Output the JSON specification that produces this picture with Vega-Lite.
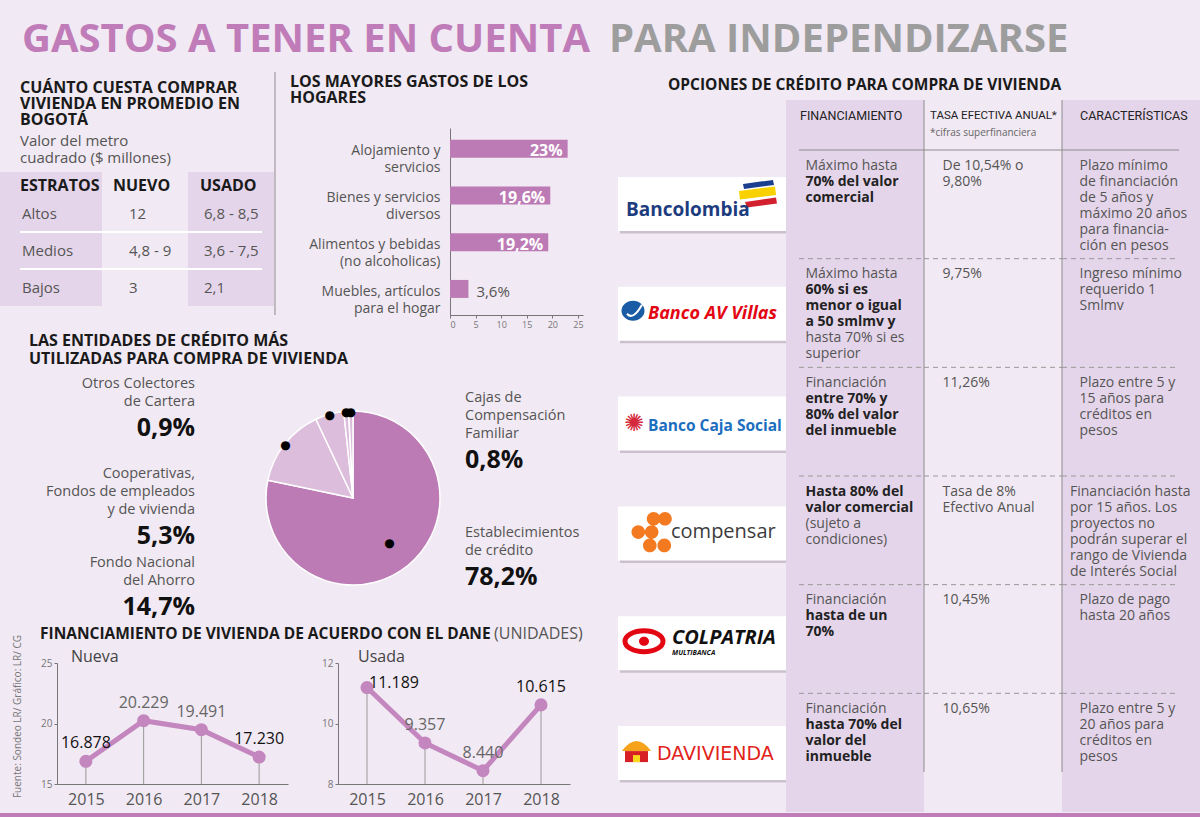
{
"$schema": "https://vega.github.io/schema/vega-lite/v6.json",
"padding": 0,
"background": "#f1e9f3",
"spacing": 0,
"config": {
  "view": {"stroke": null},
  "font": "Open Sans",
  "locale": {"number": {"decimal": ",", "thousands": ".", "grouping": [3], "currency": ["$", ""]}}
},
"datasets": {
  "estratos": [
    {"estrato": "Altos", "nuevo": "12", "usado": "6,8 - 8,5"},
    {"estrato": "Medios", "nuevo": "4,8 - 9", "usado": "3,6 - 7,5"},
    {"estrato": "Bajos", "nuevo": "3", "usado": "2,1"}
  ],
  "gastos": [
    {"gasto": "Alojamiento y\nservicios", "valor": 0.23},
    {"gasto": "Bienes y servicios\ndiversos", "valor": 0.196},
    {"gasto": "Alimentos y bebidas\n(no alcoholicas)", "valor": 0.192},
    {"gasto": "Muebles, artículos\npara el hogar", "valor": 0.036}
  ],
  "entidades": [
    {"entidad": "Establecimientos\nde crédito", "valor": 0.782, "orden": 1},
    {"entidad": "Fondo Nacional\ndel Ahorro", "valor": 0.147, "orden": 2},
    {"entidad": "Cooperativas,\nFondos de empleados\ny de vivienda", "valor": 0.053, "orden": 3},
    {"entidad": "Otros Colectores\nde Cartera", "valor": 0.009, "orden": 4},
    {"entidad": "Cajas de\nCompensación\nFamiliar", "valor": 0.008, "orden": 5}
  ],
  "nueva": [
    {"anio": 2015, "unidades": 16878},
    {"anio": 2016, "unidades": 20229},
    {"anio": 2017, "unidades": 19491},
    {"anio": 2018, "unidades": 17230}
  ],
  "usada": [
    {"anio": 2015, "unidades": 11189},
    {"anio": 2016, "unidades": 9357},
    {"anio": 2017, "unidades": 8440},
    {"anio": 2018, "unidades": 10615}
  ],
  "bancos": [
    {"banco": "Bancolombia"}, {"banco": "Banco AV Villas"}, {"banco": "Banco Caja Social"},
    {"banco": "Compensar"}, {"banco": "Colpatria"}, {"banco": "Davivienda"}
  ],
  "celdas": [
    {"banco": "Bancolombia", "col": "fin", "linea": 0, "texto": "Máximo hasta", "negrita": false},
    {"banco": "Bancolombia", "col": "fin", "linea": 1, "texto": "70% del valor", "negrita": true},
    {"banco": "Bancolombia", "col": "fin", "linea": 2, "texto": "comercial", "negrita": true},
    {"banco": "Banco AV Villas", "col": "fin", "linea": 0, "texto": "Máximo hasta", "negrita": false},
    {"banco": "Banco AV Villas", "col": "fin", "linea": 1, "texto": "60% si es", "negrita": true},
    {"banco": "Banco AV Villas", "col": "fin", "linea": 2, "texto": "menor o igual", "negrita": true},
    {"banco": "Banco AV Villas", "col": "fin", "linea": 3, "texto": "a 50 smlmv y", "negrita": true},
    {"banco": "Banco AV Villas", "col": "fin", "linea": 4, "texto": "hasta 70% si es", "negrita": false},
    {"banco": "Banco AV Villas", "col": "fin", "linea": 5, "texto": "superior", "negrita": false},
    {"banco": "Banco Caja Social", "col": "fin", "linea": 0, "texto": "Financiación", "negrita": false},
    {"banco": "Banco Caja Social", "col": "fin", "linea": 1, "texto": "entre 70% y", "negrita": true},
    {"banco": "Banco Caja Social", "col": "fin", "linea": 2, "texto": "80% del valor", "negrita": true},
    {"banco": "Banco Caja Social", "col": "fin", "linea": 3, "texto": "del inmueble", "negrita": true},
    {"banco": "Compensar", "col": "fin", "linea": 0, "texto": "Hasta 80% del", "negrita": true},
    {"banco": "Compensar", "col": "fin", "linea": 1, "texto": "valor comercial", "negrita": true},
    {"banco": "Compensar", "col": "fin", "linea": 2, "texto": "(sujeto a", "negrita": false},
    {"banco": "Compensar", "col": "fin", "linea": 3, "texto": "condiciones)", "negrita": false},
    {"banco": "Colpatria", "col": "fin", "linea": 0, "texto": "Financiación", "negrita": false},
    {"banco": "Colpatria", "col": "fin", "linea": 1, "texto": "hasta de un", "negrita": true},
    {"banco": "Colpatria", "col": "fin", "linea": 2, "texto": "70%", "negrita": true},
    {"banco": "Davivienda", "col": "fin", "linea": 0, "texto": "Financiación", "negrita": false},
    {"banco": "Davivienda", "col": "fin", "linea": 1, "texto": "hasta 70% del", "negrita": true},
    {"banco": "Davivienda", "col": "fin", "linea": 2, "texto": "valor del", "negrita": true},
    {"banco": "Davivienda", "col": "fin", "linea": 3, "texto": "inmueble", "negrita": true},
    {"banco": "Bancolombia", "col": "tasa", "linea": 0, "texto": "De 10,54% o", "negrita": false},
    {"banco": "Bancolombia", "col": "tasa", "linea": 1, "texto": "9,80%", "negrita": false},
    {"banco": "Banco AV Villas", "col": "tasa", "linea": 0, "texto": "9,75%", "negrita": false},
    {"banco": "Banco Caja Social", "col": "tasa", "linea": 0, "texto": "11,26%", "negrita": false},
    {"banco": "Compensar", "col": "tasa", "linea": 0, "texto": "Tasa de 8%", "negrita": false},
    {"banco": "Compensar", "col": "tasa", "linea": 1, "texto": "Efectivo Anual", "negrita": false},
    {"banco": "Colpatria", "col": "tasa", "linea": 0, "texto": "10,45%", "negrita": false},
    {"banco": "Davivienda", "col": "tasa", "linea": 0, "texto": "10,65%", "negrita": false},
    {"banco": "Bancolombia", "col": "car", "linea": 0, "texto": "Plazo mínimo", "negrita": false},
    {"banco": "Bancolombia", "col": "car", "linea": 1, "texto": "de financiación", "negrita": false},
    {"banco": "Bancolombia", "col": "car", "linea": 2, "texto": "de 5 años y", "negrita": false},
    {"banco": "Bancolombia", "col": "car", "linea": 3, "texto": "máximo 20 años", "negrita": false},
    {"banco": "Bancolombia", "col": "car", "linea": 4, "texto": "para financia-", "negrita": false},
    {"banco": "Bancolombia", "col": "car", "linea": 5, "texto": "ción en pesos", "negrita": false},
    {"banco": "Banco AV Villas", "col": "car", "linea": 0, "texto": "Ingreso mínimo", "negrita": false},
    {"banco": "Banco AV Villas", "col": "car", "linea": 1, "texto": "requerido 1", "negrita": false},
    {"banco": "Banco AV Villas", "col": "car", "linea": 2, "texto": "Smlmv", "negrita": false},
    {"banco": "Banco Caja Social", "col": "car", "linea": 0, "texto": "Plazo entre 5 y", "negrita": false},
    {"banco": "Banco Caja Social", "col": "car", "linea": 1, "texto": "15 años para", "negrita": false},
    {"banco": "Banco Caja Social", "col": "car", "linea": 2, "texto": "créditos en", "negrita": false},
    {"banco": "Banco Caja Social", "col": "car", "linea": 3, "texto": "pesos", "negrita": false},
    {"banco": "Compensar", "col": "car", "linea": 0, "texto": "Financiación hasta", "negrita": false},
    {"banco": "Compensar", "col": "car", "linea": 1, "texto": "por 15 años. Los", "negrita": false},
    {"banco": "Compensar", "col": "car", "linea": 2, "texto": "proyectos no", "negrita": false},
    {"banco": "Compensar", "col": "car", "linea": 3, "texto": "podrán superar el", "negrita": false},
    {"banco": "Compensar", "col": "car", "linea": 4, "texto": "rango de Vivienda", "negrita": false},
    {"banco": "Compensar", "col": "car", "linea": 5, "texto": "de Interés Social", "negrita": false},
    {"banco": "Colpatria", "col": "car", "linea": 0, "texto": "Plazo de pago", "negrita": false},
    {"banco": "Colpatria", "col": "car", "linea": 1, "texto": "hasta 20 años", "negrita": false},
    {"banco": "Davivienda", "col": "car", "linea": 0, "texto": "Plazo entre 5 y", "negrita": false},
    {"banco": "Davivienda", "col": "car", "linea": 1, "texto": "20 años para", "negrita": false},
    {"banco": "Davivienda", "col": "car", "linea": 2, "texto": "créditos en", "negrita": false},
    {"banco": "Davivienda", "col": "car", "linea": 3, "texto": "pesos", "negrita": false}
  ]
},
"vconcat": [
  {
    "width": 1200, "height": 62, "data": {"values": [{}]},
    "encoding": {
      "x": {"datum": 0, "type": "quantitative", "scale": {"domain": [0, 1]}, "axis": null},
      "y": {"datum": 1, "type": "quantitative", "scale": {"domain": [0, 1]}, "axis": null}
    },
    "layer": [
      {"mark": {"type": "text", "text": "GASTOS A TENER EN CUENTA", "align": "left", "baseline": "alphabetic", "dx": 22, "dy": 52, "fontSize": 40, "fontWeight": "bold", "color": "#c07cb8"}},
      {"mark": {"type": "text", "text": "PARA INDEPENDIZARSE", "align": "left", "baseline": "alphabetic", "dx": 609, "dy": 52, "fontSize": 40, "fontWeight": "bold", "color": "#9d9d9d"}}
    ]
  },
  {
    "hconcat": [
      {
        "vconcat": [
          {
            "width": 600, "height": 268,
            "resolve": {"scale": {"x": "independent", "y": "independent"}},
            "layer": [
              {
                "data": {"name": "estratos"},
                "resolve": {"scale": {"y": "independent"}},
                "layer": [
                  {"data": {"values": [{}]}, "mark": {"type": "rect", "color": "#e5d5ea"},
                   "encoding": {"x": {"datum": 0, "type": "quantitative", "scale": {"domain": [0, 1], "range": [0, 274]}, "axis": null}, "x2": {"datum": 0.37226},
                                "y": {"datum": 0.54918, "type": "quantitative", "scale": {"domain": [0, 1], "range": [244, 0]}, "axis": null}, "y2": {"datum": 0}}},
                  {"data": {"values": [{}]}, "mark": {"type": "rect", "color": "#e5d5ea"},
                   "encoding": {"x": {"datum": 0.68613, "type": "quantitative", "scale": {"domain": [0, 1], "range": [0, 274]}, "axis": null}, "x2": {"datum": 1},
                                "y": {"datum": 0.54918, "type": "quantitative", "scale": {"domain": [0, 1], "range": [244, 0]}, "axis": null}, "y2": {"datum": 0}}},
                  {"data": {"values": [{}]}, "mark": {"type": "rule", "color": "#8c8c8c", "strokeWidth": 1},
                   "encoding": {"x": {"datum": 1.0036, "type": "quantitative", "scale": {"domain": [0, 1], "range": [0, 274]}, "axis": null},
                                "y": {"datum": 0.95902, "type": "quantitative", "scale": {"domain": [0, 1], "range": [244, 0]}, "axis": null}, "y2": {"datum": -0.03689}}},
                  {"data": {"values": [{}]},
                   "mark": {"type": "text", "text": ["CUÁNTO CUESTA COMPRAR", "VIVIENDA EN PROMEDIO EN", "BOGOTÁ"], "align": "left", "baseline": "alphabetic", "dx": 20, "dy": 31, "lineHeight": 16, "fontSize": 16, "fontWeight": "bold", "color": "#1a1a1a"},
                   "encoding": {"x": {"datum": 0, "type": "quantitative", "scale": {"domain": [0, 1], "range": [0, 274]}, "axis": null},
                                "y": {"datum": 1, "type": "quantitative", "scale": {"domain": [0, 1], "range": [244, 0]}, "axis": null}}},
                  {"data": {"values": [{}]},
                   "mark": {"type": "text", "text": ["Valor del metro", "cuadrado ($ millones)"], "align": "left", "baseline": "alphabetic", "dx": 20, "dy": 84, "lineHeight": 17, "fontSize": 15, "color": "#555555"},
                   "encoding": {"x": {"datum": 0, "type": "quantitative", "scale": {"domain": [0, 1], "range": [0, 274]}, "axis": null},
                                "y": {"datum": 1, "type": "quantitative", "scale": {"domain": [0, 1], "range": [244, 0]}, "axis": null}}},
                  {"data": {"values": [{}]},
                   "mark": {"type": "text", "text": "ESTRATOS", "align": "left", "baseline": "middle", "dx": 20, "dy": 123.5, "fontSize": 16, "fontWeight": "bold", "color": "#1a1a1a"},
                   "encoding": {"x": {"datum": 0, "type": "quantitative", "scale": {"domain": [0, 1], "range": [0, 274]}, "axis": null},
                                "y": {"datum": 1, "type": "quantitative", "scale": {"domain": [0, 1], "range": [244, 0]}, "axis": null}}},
                  {"data": {"values": [{}]},
                   "mark": {"type": "text", "text": "NUEVO", "align": "left", "baseline": "middle", "dx": 113, "dy": 123.5, "fontSize": 16, "fontWeight": "bold", "color": "#1a1a1a"},
                   "encoding": {"x": {"datum": 0, "type": "quantitative", "scale": {"domain": [0, 1], "range": [0, 274]}, "axis": null},
                                "y": {"datum": 1, "type": "quantitative", "scale": {"domain": [0, 1], "range": [244, 0]}, "axis": null}}},
                  {"data": {"values": [{}]},
                   "mark": {"type": "text", "text": "USADO", "align": "left", "baseline": "middle", "dx": 200, "dy": 123.5, "fontSize": 16, "fontWeight": "bold", "color": "#1a1a1a"},
                   "encoding": {"x": {"datum": 0, "type": "quantitative", "scale": {"domain": [0, 1], "range": [0, 274]}, "axis": null},
                                "y": {"datum": 1, "type": "quantitative", "scale": {"domain": [0, 1], "range": [244, 0]}, "axis": null}}},
                  {"transform": [{"filter": "datum.estrato != 'Altos'"}],
                   "mark": {"type": "rule", "color": "#ffffff", "strokeWidth": 2},
                   "encoding": {"x": {"datum": 0.073, "type": "quantitative", "scale": {"domain": [0, 1], "range": [0, 274]}, "axis": null}, "x2": {"datum": 0.9562},
                                "y": {"field": "estrato", "type": "nominal", "bandPosition": 0, "scale": {"type": "band", "domain": ["Altos", "Medios", "Bajos"], "range": [133, 244], "paddingInner": 0, "paddingOuter": 0}, "axis": null}}},
                  {"mark": {"type": "text", "align": "left", "baseline": "middle", "dx": 22, "fontSize": 15, "color": "#555555"},
                   "encoding": {"x": {"datum": 0, "type": "quantitative", "scale": {"domain": [0, 1], "range": [0, 274]}, "axis": null}, "text": {"field": "estrato"},
                                "y": {"field": "estrato", "type": "nominal", "scale": {"type": "band", "domain": ["Altos", "Medios", "Bajos"], "range": [133, 244], "paddingInner": 0, "paddingOuter": 0}, "axis": null}}},
                  {"mark": {"type": "text", "align": "left", "baseline": "middle", "dx": 129, "fontSize": 15, "color": "#555555"},
                   "encoding": {"x": {"datum": 0, "type": "quantitative", "scale": {"domain": [0, 1], "range": [0, 274]}, "axis": null}, "text": {"field": "nuevo"},
                                "y": {"field": "estrato", "type": "nominal", "scale": {"type": "band", "domain": ["Altos", "Medios", "Bajos"], "range": [133, 244], "paddingInner": 0, "paddingOuter": 0}, "axis": null}}},
                  {"mark": {"type": "text", "align": "left", "baseline": "middle", "dx": 204, "fontSize": 15, "color": "#555555"},
                   "encoding": {"x": {"datum": 0, "type": "quantitative", "scale": {"domain": [0, 1], "range": [0, 274]}, "axis": null}, "text": {"field": "usado"},
                                "y": {"field": "estrato", "type": "nominal", "scale": {"type": "band", "domain": ["Altos", "Medios", "Bajos"], "range": [133, 244], "paddingInner": 0, "paddingOuter": 0}, "axis": null}}}
                ]
              },
              {
                "data": {"name": "gastos"},
                "resolve": {"scale": {"y": "independent"}},
                "layer": [
                  {"data": {"values": [{}]},
                   "mark": {"type": "text", "text": ["LOS MAYORES GASTOS DE LOS", "HOGARES"], "align": "left", "baseline": "alphabetic", "dx": -160, "dy": 25, "lineHeight": 16, "fontSize": 16, "fontWeight": "bold", "color": "#1a1a1a"},
                   "encoding": {"x": {"datum": 0, "type": "quantitative", "scale": {"domain": [0, 0.25], "range": [450, 583]}},
                                "y": {"datum": 1, "type": "quantitative", "scale": {"domain": [0, 1], "range": [268, 0]}, "axis": null}}},
                  {"mark": {"type": "bar", "color": "#bd7bb5"},
                   "encoding": {
                     "y": {"field": "gasto", "type": "nominal", "sort": null,
                           "scale": {"type": "band", "domain": ["Alojamiento y\nservicios", "Bienes y servicios\ndiversos", "Alimentos y bebidas\n(no alcoholicas)", "Muebles, artículos\npara el hogar"], "range": [66, 253], "paddingInner": 0.5, "paddingOuter": 0.25},
                           "axis": {"orient": "left", "offset": -450, "title": null, "ticks": false, "domainColor": "#777777", "labelPadding": 10, "labelFontSize": 14, "labelColor": "#555555", "labelLineHeight": 17, "labelLimit": 250, "labelExpr": "split(datum.label, '\\n')"}},
                     "x": {"field": "valor", "type": "quantitative", "scale": {"domain": [0, 0.25], "range": [450, 583]},
                           "axis": {"orient": "bottom", "offset": -15, "title": null, "values": [0, 0.05, 0.1, 0.15, 0.2, 0.25], "labelExpr": "round(datum.value*100)", "labelOverlap": false, "labelFontSize": 9, "labelColor": "#777777", "domainColor": "#777777", "tickColor": "#777777", "tickSize": 3, "grid": false, "labelPadding": 2}}
                   }},
                  {"transform": [{"filter": "datum.valor >= 0.1"}],
                   "mark": {"type": "text", "align": "right", "baseline": "middle", "dx": -5, "fontSize": 16, "fontWeight": "bold", "color": "#ffffff"},
                   "encoding": {
                     "y": {"field": "gasto", "type": "nominal", "scale": {"type": "band", "domain": ["Alojamiento y\nservicios", "Bienes y servicios\ndiversos", "Alimentos y bebidas\n(no alcoholicas)", "Muebles, artículos\npara el hogar"], "range": [66, 253], "paddingInner": 0.5, "paddingOuter": 0.25}, "axis": null},
                     "x": {"field": "valor", "type": "quantitative"}, "text": {"field": "valor", "type": "quantitative", "format": ".1~%"}}},
                  {"transform": [{"filter": "datum.valor < 0.1"}],
                   "mark": {"type": "text", "align": "left", "baseline": "middle", "dx": 8, "fontSize": 15, "color": "#555555"},
                   "encoding": {
                     "y": {"field": "gasto", "type": "nominal", "scale": {"type": "band", "domain": ["Alojamiento y\nservicios", "Bienes y servicios\ndiversos", "Alimentos y bebidas\n(no alcoholicas)", "Muebles, artículos\npara el hogar"], "range": [66, 253], "paddingInner": 0.5, "paddingOuter": 0.25}, "axis": null},
                     "x": {"field": "valor", "type": "quantitative"}, "text": {"field": "valor", "type": "quantitative", "format": ".1~%"}}}
                ]
              }
            ]
          },
          {
            "width": 600, "height": 42, "data": {"values": [{}]},
            "mark": {"type": "text", "text": ["LAS ENTIDADES DE CRÉDITO MÁS", "UTILIZADAS PARA COMPRA DE VIVIENDA"], "align": "left", "baseline": "alphabetic", "dx": 29, "dy": 16, "lineHeight": 18, "fontSize": 16, "fontWeight": "bold", "color": "#1a1a1a"},
            "encoding": {
              "x": {"datum": 0, "type": "quantitative", "scale": {"domain": [0, 1]}, "axis": null},
              "y": {"datum": 1, "type": "quantitative", "scale": {"domain": [0, 1]}, "axis": null}
            }
          },
          {
            "hconcat": [
              {
                "width": 262, "height": 248, "data": {"name": "entidades"},
                "encoding": {
                  "x": {"datum": 0, "type": "quantitative", "scale": {"domain": [0, 1]}, "axis": null},
                  "y": {"field": "entidad", "type": "nominal", "scale": {"type": "point", "domain": ["Otros Colectores\nde Cartera", "Cooperativas,\nFondos de empleados\ny de vivienda", "Fondo Nacional\ndel Ahorro"], "range": [16, 195], "padding": 0}, "axis": null}
                },
                "transform": [{"filter": {"field": "entidad", "oneOf": ["Otros Colectores\nde Cartera", "Cooperativas,\nFondos de empleados\ny de vivienda", "Fondo Nacional\ndel Ahorro"]}}],
                "layer": [
                  {"mark": {"type": "text", "align": "right", "baseline": "alphabetic", "dx": 195, "fontSize": 14.5, "lineHeight": 18, "lineBreak": "\n", "color": "#555555"},
                   "encoding": {"text": {"field": "entidad"}}},
                  {"transform": [{"filter": "datum.valor > 0.1 || datum.valor < 0.01"}],
                   "mark": {"type": "text", "align": "right", "baseline": "alphabetic", "dx": 195, "dy": 47.5, "fontSize": 25, "fontWeight": "bold", "color": "#111111"},
                   "encoding": {"text": {"field": "valor", "type": "quantitative", "format": ".1~%"}}},
                  {"transform": [{"filter": "datum.valor > 0.01 && datum.valor < 0.1"}],
                   "mark": {"type": "text", "align": "right", "baseline": "alphabetic", "dx": 195, "dy": 66, "fontSize": 25, "fontWeight": "bold", "color": "#111111"},
                   "encoding": {"text": {"field": "valor", "type": "quantitative", "format": ".1~%"}}}
                ]
              },
              {
                "vconcat": [
                  {"width": 182, "height": 34, "data": {"values": [{}]}, "mark": {"type": "point", "opacity": 0}},
                  {
                    "width": 182, "height": 182, "data": {"name": "entidades"},
                    "layer": [
                      {"mark": {"type": "arc", "outerRadius": 87, "stroke": "#ffffff", "strokeWidth": 1.5},
                       "encoding": {
                         "theta": {"field": "valor", "type": "quantitative", "stack": true},
                         "order": {"field": "orden", "type": "quantitative"},
                         "color": {"field": "entidad", "type": "nominal", "legend": null,
                                   "scale": {"domain": ["Establecimientos\nde crédito", "Fondo Nacional\ndel Ahorro", "Cooperativas,\nFondos de empleados\ny de vivienda", "Otros Colectores\nde Cartera", "Cajas de\nCompensación\nFamiliar"],
                                             "range": ["#bc7bb4", "#dcbddb", "#dcbddb", "#dcbddb", "#dcbddb"]}}
                       }},
                      {"mark": {"type": "text", "text": "●", "radius": 86, "fontSize": 12, "color": "#000000", "align": "center", "baseline": "middle", "font": "DejaVu Sans"},
                       "encoding": {
                         "theta": {"field": "valor", "type": "quantitative", "stack": true},
                         "order": {"field": "orden", "type": "quantitative"},
                         "opacity": {"condition": {"test": "datum.valor > 0.5", "value": 0}, "value": 1}
                       }},
                      {"mark": {"type": "text", "text": "●", "radius": 58, "fontSize": 12, "color": "#000000", "align": "center", "baseline": "middle", "font": "DejaVu Sans"},
                       "encoding": {
                         "theta": {"field": "valor", "type": "quantitative", "stack": true},
                         "order": {"field": "orden", "type": "quantitative"},
                         "opacity": {"condition": {"test": "datum.valor > 0.5", "value": 1}, "value": 0}
                       }}
                    ]
                  }
                ],
                "spacing": 0
              },
              {
                "width": 156, "height": 248, "data": {"name": "entidades"},
                "encoding": {
                  "x": {"datum": 0, "type": "quantitative", "scale": {"domain": [0, 1]}, "axis": null},
                  "y": {"field": "entidad", "type": "nominal", "scale": {"type": "point", "domain": ["Cajas de\nCompensación\nFamiliar", "Establecimientos\nde crédito"], "range": [30, 165], "padding": 0}, "axis": null}
                },
                "transform": [{"filter": {"field": "entidad", "oneOf": ["Cajas de\nCompensación\nFamiliar", "Establecimientos\nde crédito"]}}],
                "layer": [
                  {"mark": {"type": "text", "align": "left", "baseline": "alphabetic", "dx": 21, "fontSize": 14.5, "lineHeight": 18, "lineBreak": "\n", "color": "#555555"},
                   "encoding": {"text": {"field": "entidad"}}},
                  {"transform": [{"filter": "datum.valor < 0.5"}],
                   "mark": {"type": "text", "align": "left", "baseline": "alphabetic", "dx": 21, "dy": 66, "fontSize": 25, "fontWeight": "bold", "color": "#111111"},
                   "encoding": {"text": {"field": "valor", "type": "quantitative", "format": ".1~%"}}},
                  {"transform": [{"filter": "datum.valor > 0.5"}],
                   "mark": {"type": "text", "align": "left", "baseline": "alphabetic", "dx": 21, "dy": 47.5, "fontSize": 25, "fontWeight": "bold", "color": "#111111"},
                   "encoding": {"text": {"field": "valor", "type": "quantitative", "format": ".1~%"}}}
                ]
              }
            ],
            "spacing": 0
          },
          {
            "width": 600, "height": 192,
            "resolve": {"scale": {"x": "independent", "y": "independent"}},
            "layer": [
              {
                "data": {"values": [{}]},
                "encoding": {
                  "x": {"datum": 0, "type": "quantitative", "scale": {"domain": [0, 1], "range": [0, 600]}, "axis": null},
                  "y": {"datum": 1, "type": "quantitative", "scale": {"domain": [0, 1], "range": [192, 0]}, "axis": null}
                },
                "layer": [
                  {"mark": {"type": "text", "text": "FINANCIAMIENTO DE VIVIENDA DE ACUERDO CON EL DANE", "align": "left", "baseline": "alphabetic", "dx": 40, "dy": 19, "fontSize": 15.5, "fontWeight": "bold", "color": "#1a1a1a"}},
                  {"mark": {"type": "text", "text": "(UNIDADES)", "align": "left", "baseline": "alphabetic", "dx": 494, "dy": 19, "fontSize": 16, "color": "#555555"}}
                ]
              },
              {
                "data": {"name": "nueva"},
                "encoding": {"x": {"field": "anio", "type": "ordinal", "scale": {"type": "point", "range": [57, 288], "padding": 0.5},
                                   "axis": {"orient": "bottom", "offset": -28, "title": null, "ticks": false, "domainColor": "#777777", "labelFontSize": 16, "labelColor": "#555555", "labelPadding": 7, "labelAngle": 0}}},
                "layer": [
                  {"mark": {"type": "rule", "color": "#999999", "strokeWidth": 1},
                   "encoding": {"y": {"field": "unidades", "type": "quantitative", "scale": {"domain": [15000, 25000], "range": [164, 43]},
                                      "axis": {"orient": "left", "offset": -57, "title": "Fuente: Sondeo LR/ Gráfico: LR/ CG", "values": [15000, 20000, 25000], "labelExpr": "datum.value/1000", "grid": false, "tickSize": 3, "labelFontSize": 10, "labelColor": "#777777", "domainColor": "#777777", "tickColor": "#777777", "labelPadding": 2,
                                               "titleX": -40, "titleY": 96, "titleAngle": 270, "titleFontSize": 10, "titleFontWeight": "normal", "titleColor": "#777777", "titleAlign": "center", "titleBaseline": "middle"}},
                                "y2": {"datum": 15000}}},
                  {"mark": {"type": "line", "color": "#c486be", "strokeWidth": 5}, "encoding": {"y": {"field": "unidades", "type": "quantitative"}}},
                  {"mark": {"type": "circle", "size": 170, "color": "#c486be", "opacity": 1}, "encoding": {"y": {"field": "unidades", "type": "quantitative"}}},
                  {"mark": {"type": "text", "dy": -18, "fontSize": 16, "baseline": "middle"},
                   "encoding": {"y": {"field": "unidades", "type": "quantitative"},
                                "text": {"field": "unidades", "type": "quantitative", "format": ",d"},
                                "color": {"condition": {"test": "datum.anio == 2015 || datum.anio == 2018", "value": "#111111"}, "value": "#666666"}}},
                  {"data": {"values": [{"serie": "Nueva"}]},
                   "mark": {"type": "text", "align": "left", "baseline": "alphabetic", "dx": -15, "dy": -1, "fontSize": 16, "color": "#444444"},
                   "encoding": {"x": {"datum": 2015, "type": "ordinal"}, "y": {"datum": 25000, "type": "quantitative"}, "text": {"field": "serie"}}}
                ]
              },
              {
                "data": {"name": "usada"},
                "encoding": {"x": {"field": "anio", "type": "ordinal", "scale": {"type": "point", "range": [338, 570], "padding": 0.5},
                                   "axis": {"orient": "bottom", "offset": -28, "title": null, "ticks": false, "domainColor": "#777777", "labelFontSize": 16, "labelColor": "#555555", "labelPadding": 7, "labelAngle": 0}}},
                "layer": [
                  {"mark": {"type": "rule", "color": "#999999", "strokeWidth": 1},
                   "encoding": {"y": {"field": "unidades", "type": "quantitative", "scale": {"domain": [8000, 12000], "range": [164, 43]},
                                      "axis": {"orient": "left", "offset": -338, "title": null, "values": [8000, 10000, 12000], "labelExpr": "datum.value/1000", "grid": false, "tickSize": 3, "labelFontSize": 10, "labelColor": "#777777", "domainColor": "#777777", "tickColor": "#777777", "labelPadding": 2}},
                                "y2": {"datum": 8000}}},
                  {"mark": {"type": "line", "color": "#c486be", "strokeWidth": 5}, "encoding": {"y": {"field": "unidades", "type": "quantitative"}}},
                  {"mark": {"type": "circle", "size": 170, "color": "#c486be", "opacity": 1}, "encoding": {"y": {"field": "unidades", "type": "quantitative"}}},
                  {"transform": [{"filter": "datum.anio != 2015"}],
                   "mark": {"type": "text", "dy": -18, "fontSize": 16, "baseline": "middle"},
                   "encoding": {"y": {"field": "unidades", "type": "quantitative"},
                                "text": {"field": "unidades", "type": "quantitative", "format": ",d"},
                                "color": {"condition": {"test": "datum.anio == 2018", "value": "#111111"}, "value": "#666666"}}},
                  {"transform": [{"filter": "datum.anio == 2015"}],
                   "mark": {"type": "text", "dx": 27, "dy": -5, "fontSize": 16, "baseline": "middle", "color": "#111111"},
                   "encoding": {"y": {"field": "unidades", "type": "quantitative"},
                                "text": {"field": "unidades", "type": "quantitative", "format": ",d"}}},
                  {"data": {"values": [{"serie": "Usada"}]},
                   "mark": {"type": "text", "align": "left", "baseline": "alphabetic", "dx": -9, "dy": -1, "fontSize": 16, "color": "#444444"},
                   "encoding": {"x": {"datum": 2015, "type": "ordinal"}, "y": {"datum": 12000, "type": "quantitative"}, "text": {"field": "serie"}}}
                ]
              }
            ]
          }
        ],
        "spacing": 0
      },
      {
        "hconcat": [
          {
            "width": 186, "height": 750,
            "resolve": {"scale": {"y": "independent"}},
            "layer": [
              {"data": {"values": [{}]},
               "mark": {"type": "text", "text": "OPCIONES DE CRÉDITO PARA COMPRA DE VIVIENDA", "align": "left", "baseline": "alphabetic", "dx": 68, "dy": 28, "fontSize": 15.5, "fontWeight": "bold", "color": "#1a1a1a"},
               "encoding": {"x": {"datum": 0, "type": "quantitative", "scale": {"domain": [0, 1], "range": [0, 186]}, "axis": null},
                            "y": {"datum": 1, "type": "quantitative", "scale": {"domain": [0, 1], "range": [750, 0]}, "axis": null}}},
              {
                "data": {"name": "bancos"},
                "encoding": {
                  "x": {"datum": 0, "type": "quantitative", "scale": {"domain": [0, 1], "range": [0, 186]}, "axis": null},
                  "y": {"field": "banco", "type": "nominal", "sort": null, "scale": {"type": "band", "domain": ["Bancolombia", "Banco AV Villas", "Banco Caja Social", "Compensar", "Colpatria", "Davivienda"], "range": [87, 746], "paddingInner": 0, "paddingOuter": 0}, "axis": null}
                },
                "layer": [
                  {"mark": {"type": "point", "shape": "M0.2,-0.245L1.9,-0.245L1.99,0.025L1.9,0.295L0.2,0.295Z", "size": 40000, "filled": true, "color": "#cbc1ce", "opacity": 1, "strokeWidth": 0}},
                  {"mark": {"type": "point", "shape": "M0.18,-0.27L1.88,-0.27L1.97,0L1.88,0.27L0.18,0.27Z", "size": 40000, "filled": true, "color": "#ffffff", "opacity": 1, "strokeWidth": 0}},
                  {"transform": [{"filter": "datum.banco == 'Bancolombia'"}],
                   "mark": {"type": "point", "shape": "M1.43,-0.2L1.73,-0.24L1.74,-0.19L1.44,-0.15Z", "size": 40000, "filled": true, "color": "#1b3f8f", "opacity": 1, "strokeWidth": 0}},
                  {"transform": [{"filter": "datum.banco == 'Bancolombia'"}],
                   "mark": {"type": "point", "shape": "M1.39,-0.13L1.75,-0.175L1.76,-0.09L1.4,-0.045Z", "size": 40000, "filled": true, "color": "#f9d100", "opacity": 1, "strokeWidth": 0}},
                  {"transform": [{"filter": "datum.banco == 'Bancolombia'"}],
                   "mark": {"type": "point", "shape": "M1.45,-0.02L1.76,-0.065L1.77,-0.005L1.47,0.035Z", "size": 40000, "filled": true, "color": "#d3202f", "opacity": 1, "strokeWidth": 0}},
                  {"transform": [{"filter": "datum.banco == 'Bancolombia'"}],
                   "mark": {"type": "text", "text": "Bancolombia", "align": "left", "baseline": "alphabetic", "dx": 26, "dy": 12, "fontSize": 19, "fontWeight": "bold", "color": "#1d3c7e"}},
                  {"transform": [{"filter": "datum.banco == 'Banco AV Villas'"}],
                   "mark": {"type": "point", "shape": "M0.215,-0.03A0.115,0.1,0,1,0,0.445,-0.03A0.115,0.1,0,1,0,0.215,-0.03Z", "size": 40000, "filled": true, "color": "#1a5ba6", "opacity": 1, "strokeWidth": 0}},
                  {"transform": [{"filter": "datum.banco == 'Banco AV Villas'"}],
                   "mark": {"type": "point", "shape": "M0.27,0Q0.33,0.07,0.42,-0.09", "size": 40000, "filled": false, "color": "#ffffff", "opacity": 1, "strokeWidth": 2}},
                  {"transform": [{"filter": "datum.banco == 'Banco AV Villas'"}],
                   "mark": {"type": "text", "text": "Banco AV Villas", "align": "left", "baseline": "alphabetic", "dx": 48, "dy": 5, "fontSize": 18, "fontWeight": "bold", "fontStyle": "italic", "color": "#e30613"}},
                  {"transform": [{"filter": "datum.banco == 'Banco Caja Social'"}],
                   "mark": {"type": "text", "text": "✺", "align": "center", "baseline": "middle", "dx": 34, "fontSize": 24, "color": "#d42a3c", "font": "DejaVu Sans"}},
                  {"transform": [{"filter": "datum.banco == 'Banco Caja Social'"}],
                   "mark": {"type": "text", "text": "Banco Caja Social", "align": "left", "baseline": "alphabetic", "dx": 48, "dy": 7, "fontSize": 15.5, "fontWeight": "bold", "color": "#1c6ec0"}},
                  {"transform": [{"filter": "datum.banco == 'Compensar'"}],
                   "mark": {"type": "point", "shape": "M0.468,-0.147a0.068,0.068,0,1,0,0.136,0a0.068,0.068,0,1,0,-0.136,0ZM0.582,-0.147a0.068,0.068,0,1,0,0.136,0a0.068,0.068,0,1,0,-0.136,0ZM0.315,-0.013a0.068,0.068,0,1,0,0.136,0a0.068,0.068,0,1,0,-0.136,0ZM0.449,-0.013a0.068,0.068,0,1,0,0.136,0a0.068,0.068,0,1,0,-0.136,0ZM0.43,0.12a0.068,0.068,0,1,0,0.136,0a0.068,0.068,0,1,0,-0.136,0ZM0.575,0.12a0.068,0.068,0,1,0,0.136,0a0.068,0.068,0,1,0,-0.136,0Z", "size": 40000, "filled": true, "color": "#f37a20", "opacity": 1, "strokeWidth": 0}},
                  {"transform": [{"filter": "datum.banco == 'Compensar'"}],
                   "mark": {"type": "text", "text": "compensar", "align": "left", "baseline": "alphabetic", "dx": 71, "dy": 5, "fontSize": 20, "color": "#3c3c3c"}},
                  {"transform": [{"filter": "datum.banco == 'Colpatria'"}],
                   "mark": {"type": "point", "shape": "M0.25,-0.02A0.19,0.105,0,1,1,0.63,-0.02A0.19,0.105,0,1,1,0.25,-0.02Z", "size": 40000, "filled": false, "color": "#e30613", "opacity": 1, "strokeWidth": 5}},
                  {"transform": [{"filter": "datum.banco == 'Colpatria'"}],
                   "mark": {"type": "point", "shape": "M0.39,-0.02A0.05,0.045,0,1,1,0.49,-0.02A0.05,0.045,0,1,1,0.39,-0.02Z", "size": 40000, "filled": true, "color": "#e30613", "opacity": 1, "strokeWidth": 0}},
                  {"transform": [{"filter": "datum.banco == 'Colpatria'"}],
                   "mark": {"type": "text", "text": "COLPATRIA", "align": "left", "baseline": "alphabetic", "dx": 72, "dy": 1, "fontSize": 20, "fontWeight": "bold", "fontStyle": "italic", "color": "#111111"}},
                  {"transform": [{"filter": "datum.banco == 'Colpatria'"}],
                   "mark": {"type": "text", "text": "MULTIBANCA", "align": "left", "baseline": "alphabetic", "dx": 72, "dy": 12, "fontSize": 7, "fontWeight": "bold", "fontStyle": "italic", "color": "#111111"}},
                  {"transform": [{"filter": "datum.banco == 'Davivienda'"}],
                   "mark": {"type": "point", "shape": "M0.22,-0.02Q0.365,-0.22,0.51,-0.02Z", "size": 40000, "filled": true, "color": "#f6a31b", "opacity": 1, "strokeWidth": 0}},
                  {"transform": [{"filter": "datum.banco == 'Davivienda'"}],
                   "mark": {"type": "point", "shape": "M0.25,-0.02L0.48,-0.02L0.48,0.09L0.25,0.09Z", "size": 40000, "filled": true, "color": "#d71f26", "opacity": 1, "strokeWidth": 0}},
                  {"transform": [{"filter": "datum.banco == 'Davivienda'"}],
                   "mark": {"type": "point", "shape": "M0.33,0.09L0.33,0.02L0.4,0.02L0.4,0.09Z", "size": 40000, "filled": true, "color": "#f9d71c", "opacity": 1, "strokeWidth": 0}},
                  {"transform": [{"filter": "datum.banco == 'Davivienda'"}],
                   "mark": {"type": "text", "text": "DAVIVIENDA", "align": "left", "baseline": "alphabetic", "dx": 57, "dy": 7, "fontSize": 19, "color": "#e2231a", "font": "DejaVu Sans"}}
                ]
              }
            ]
          },
          {
            "width": 138, "height": 750,
            "resolve": {"scale": {"y": "independent"}},
            "layer": [
              {"data": {"values": [{}]}, "mark": {"type": "rect", "color": "#e5d5ea"},
               "encoding": {"x": {"datum": 0, "type": "quantitative", "scale": {"domain": [0, 1]}, "axis": null}, "x2": {"datum": 1},
                            "y": {"datum": 0.94933, "type": "quantitative", "scale": {"domain": [0, 1]}, "axis": null}, "y2": {"datum": 0}}},
              {"data": {"values": [{}]},
               "mark": {"type": "text", "text": "FINANCIAMIENTO", "align": "left", "baseline": "middle", "dx": 14, "dy": 54, "fontSize": 12.5, "color": "#222222", "font": "Roboto"},
               "encoding": {"x": {"datum": 0, "type": "quantitative"}, "y": {"datum": 1, "type": "quantitative", "scale": {"domain": [0, 1]}, "axis": null}}},
              {"data": {"name": "bancos"}, "transform": [{"filter": "datum.banco == 'Bancolombia'"}],
               "mark": {"type": "rule", "color": "#8c8c8c", "strokeWidth": 1},
               "encoding": {"x": {"datum": 0.0942, "type": "quantitative"}, "x2": {"datum": 1},
                            "y": {"field": "banco", "type": "nominal", "bandPosition": 0, "scale": {"type": "band", "domain": ["Bancolombia", "Banco AV Villas", "Banco Caja Social", "Compensar", "Colpatria", "Davivienda"], "range": [88, 740], "paddingInner": 0, "paddingOuter": 0}, "axis": null}}},
              {"data": {"name": "bancos"}, "transform": [{"filter": "datum.banco != 'Bancolombia'"}],
               "mark": {"type": "rule", "color": "#999999", "strokeWidth": 1, "strokeDash": [5, 4]},
               "encoding": {"x": {"datum": 0.0942, "type": "quantitative"}, "x2": {"datum": 1},
                            "y": {"field": "banco", "type": "nominal", "bandPosition": 0, "scale": {"type": "band", "domain": ["Bancolombia", "Banco AV Villas", "Banco Caja Social", "Compensar", "Colpatria", "Davivienda"], "range": [88, 740], "paddingInner": 0, "paddingOuter": 0}, "axis": null}}},
              {
                "data": {"name": "celdas"},
                "transform": [{"filter": "datum.col == 'fin'"}],
                "encoding": {
                  "x": {"datum": 0, "type": "quantitative"},
                  "y": {"field": "banco", "type": "nominal", "scale": {"type": "band", "domain": ["Bancolombia", "Banco AV Villas", "Banco Caja Social", "Compensar", "Colpatria", "Davivienda"], "range": [88, 740], "paddingInner": 0.1166, "paddingOuter": 0.0583}, "axis": null},
                  "yOffset": {"field": "linea", "type": "ordinal", "scale": {"domain": [0, 1, 2, 3, 4, 5]}},
                  "text": {"field": "texto"}
                },
                "layer": [
                  {"transform": [{"filter": "!datum.negrita"}], "mark": {"type": "text", "align": "left", "baseline": "middle", "dx": 19.5, "dy": 1.2, "fontSize": 14, "color": "#555555"}},
                  {"transform": [{"filter": "datum.negrita"}], "mark": {"type": "text", "align": "left", "baseline": "middle", "dx": 19.5, "dy": 1.2, "fontSize": 14, "fontWeight": "bold", "color": "#222222"}}
                ]
              }
            ]
          },
          {
            "width": 138, "height": 750,
            "resolve": {"scale": {"y": "independent"}},
            "layer": [
              {"data": {"values": [{}]}, "mark": {"type": "rule", "color": "#8c8c8c", "strokeWidth": 1},
               "encoding": {"x": {"datum": 0, "type": "quantitative", "scale": {"domain": [0, 1]}, "axis": null},
                            "y": {"datum": 0.94933, "type": "quantitative", "scale": {"domain": [0, 1]}, "axis": null}, "y2": {"datum": 0.05333}}},
              {"data": {"values": [{}]},
               "mark": {"type": "text", "text": "TASA EFECTIVA ANUAL*", "align": "left", "baseline": "middle", "dx": 6, "dy": 54, "fontSize": 11.5, "color": "#222222", "font": "Roboto"},
               "encoding": {"x": {"datum": 0, "type": "quantitative"}, "y": {"datum": 1, "type": "quantitative", "scale": {"domain": [0, 1]}, "axis": null}}},
              {"data": {"values": [{}]},
               "mark": {"type": "text", "text": "*cifras superfinanciera", "align": "left", "baseline": "middle", "dx": 6, "dy": 71, "fontSize": 10, "color": "#666666"},
               "encoding": {"x": {"datum": 0, "type": "quantitative"}, "y": {"datum": 1, "type": "quantitative", "scale": {"domain": [0, 1]}, "axis": null}}},
              {"data": {"name": "bancos"}, "transform": [{"filter": "datum.banco == 'Bancolombia'"}],
               "mark": {"type": "rule", "color": "#8c8c8c", "strokeWidth": 1},
               "encoding": {"x": {"datum": 0, "type": "quantitative"}, "x2": {"datum": 1},
                            "y": {"field": "banco", "type": "nominal", "bandPosition": 0, "scale": {"type": "band", "domain": ["Bancolombia", "Banco AV Villas", "Banco Caja Social", "Compensar", "Colpatria", "Davivienda"], "range": [88, 740], "paddingInner": 0, "paddingOuter": 0}, "axis": null}}},
              {"data": {"name": "bancos"}, "transform": [{"filter": "datum.banco != 'Bancolombia'"}],
               "mark": {"type": "rule", "color": "#999999", "strokeWidth": 1, "strokeDash": [5, 4]},
               "encoding": {"x": {"datum": 0, "type": "quantitative"}, "x2": {"datum": 1},
                            "y": {"field": "banco", "type": "nominal", "bandPosition": 0, "scale": {"type": "band", "domain": ["Bancolombia", "Banco AV Villas", "Banco Caja Social", "Compensar", "Colpatria", "Davivienda"], "range": [88, 740], "paddingInner": 0, "paddingOuter": 0}, "axis": null}}},
              {
                "data": {"name": "celdas"},
                "transform": [{"filter": "datum.col == 'tasa'"}],
                "encoding": {
                  "x": {"datum": 0, "type": "quantitative"},
                  "y": {"field": "banco", "type": "nominal", "scale": {"type": "band", "domain": ["Bancolombia", "Banco AV Villas", "Banco Caja Social", "Compensar", "Colpatria", "Davivienda"], "range": [88, 740], "paddingInner": 0.1166, "paddingOuter": 0.0583}, "axis": null},
                  "yOffset": {"field": "linea", "type": "ordinal", "scale": {"domain": [0, 1, 2, 3, 4, 5]}},
                  "text": {"field": "texto"}
                },
                "layer": [
                  {"mark": {"type": "text", "align": "left", "baseline": "middle", "dx": 18.5, "dy": 1.2, "fontSize": 14, "color": "#555555"}}
                ]
              }
            ]
          },
          {
            "width": 138, "height": 750,
            "resolve": {"scale": {"y": "independent"}},
            "layer": [
              {"data": {"values": [{}]}, "mark": {"type": "rect", "color": "#e5d5ea"},
               "encoding": {"x": {"datum": 0, "type": "quantitative", "scale": {"domain": [0, 1]}, "axis": null}, "x2": {"datum": 1},
                            "y": {"datum": 0.94933, "type": "quantitative", "scale": {"domain": [0, 1]}, "axis": null}, "y2": {"datum": 0}}},
              {"data": {"values": [{}]}, "mark": {"type": "rule", "color": "#8c8c8c", "strokeWidth": 1},
               "encoding": {"x": {"datum": 0, "type": "quantitative"},
                            "y": {"datum": 0.94933, "type": "quantitative", "scale": {"domain": [0, 1]}, "axis": null}, "y2": {"datum": 0.05333}}},
              {"data": {"values": [{}]},
               "mark": {"type": "text", "text": "CARACTERÍSTICAS", "align": "left", "baseline": "middle", "dx": 18, "dy": 54, "fontSize": 12.5, "color": "#222222", "font": "Roboto"},
               "encoding": {"x": {"datum": 0, "type": "quantitative"}, "y": {"datum": 1, "type": "quantitative", "scale": {"domain": [0, 1]}, "axis": null}}},
              {"data": {"name": "bancos"}, "transform": [{"filter": "datum.banco == 'Bancolombia'"}],
               "mark": {"type": "rule", "color": "#8c8c8c", "strokeWidth": 1},
               "encoding": {"x": {"datum": 0, "type": "quantitative"}, "x2": {"datum": 0.848},
                            "y": {"field": "banco", "type": "nominal", "bandPosition": 0, "scale": {"type": "band", "domain": ["Bancolombia", "Banco AV Villas", "Banco Caja Social", "Compensar", "Colpatria", "Davivienda"], "range": [88, 740], "paddingInner": 0, "paddingOuter": 0}, "axis": null}}},
              {"data": {"name": "bancos"}, "transform": [{"filter": "datum.banco != 'Bancolombia'"}],
               "mark": {"type": "rule", "color": "#999999", "strokeWidth": 1, "strokeDash": [5, 4]},
               "encoding": {"x": {"datum": 0, "type": "quantitative"}, "x2": {"datum": 0.848},
                            "y": {"field": "banco", "type": "nominal", "bandPosition": 0, "scale": {"type": "band", "domain": ["Bancolombia", "Banco AV Villas", "Banco Caja Social", "Compensar", "Colpatria", "Davivienda"], "range": [88, 740], "paddingInner": 0, "paddingOuter": 0}, "axis": null}}},
              {
                "data": {"name": "celdas"},
                "transform": [{"filter": "datum.col == 'car'"}],
                "encoding": {
                  "x": {"datum": 0, "type": "quantitative"},
                  "y": {"field": "banco", "type": "nominal", "scale": {"type": "band", "domain": ["Bancolombia", "Banco AV Villas", "Banco Caja Social", "Compensar", "Colpatria", "Davivienda"], "range": [88, 740], "paddingInner": 0.1166, "paddingOuter": 0.0583}, "axis": null},
                  "yOffset": {"field": "linea", "type": "ordinal", "scale": {"domain": [0, 1, 2, 3, 4, 5]}},
                  "text": {"field": "texto"}
                },
                "layer": [
                  {"transform": [{"filter": "datum.banco != 'Compensar'"}], "mark": {"type": "text", "align": "left", "baseline": "middle", "dx": 17.5, "dy": 1.2, "fontSize": 14, "color": "#555555"}},
                  {"transform": [{"filter": "datum.banco == 'Compensar'"}], "mark": {"type": "text", "align": "left", "baseline": "middle", "dx": 8, "dy": 1.2, "fontSize": 14, "color": "#555555"}}
                ]
              }
            ]
          }
        ],
        "bounds": "flush", "spacing": 0
      }
    ],
    "spacing": 0
  },
  {"width": 1200, "height": 5, "view": {"fill": "#c07cb8"}, "data": {"values": [{}]}, "mark": {"type": "point", "opacity": 0}}
]
}
